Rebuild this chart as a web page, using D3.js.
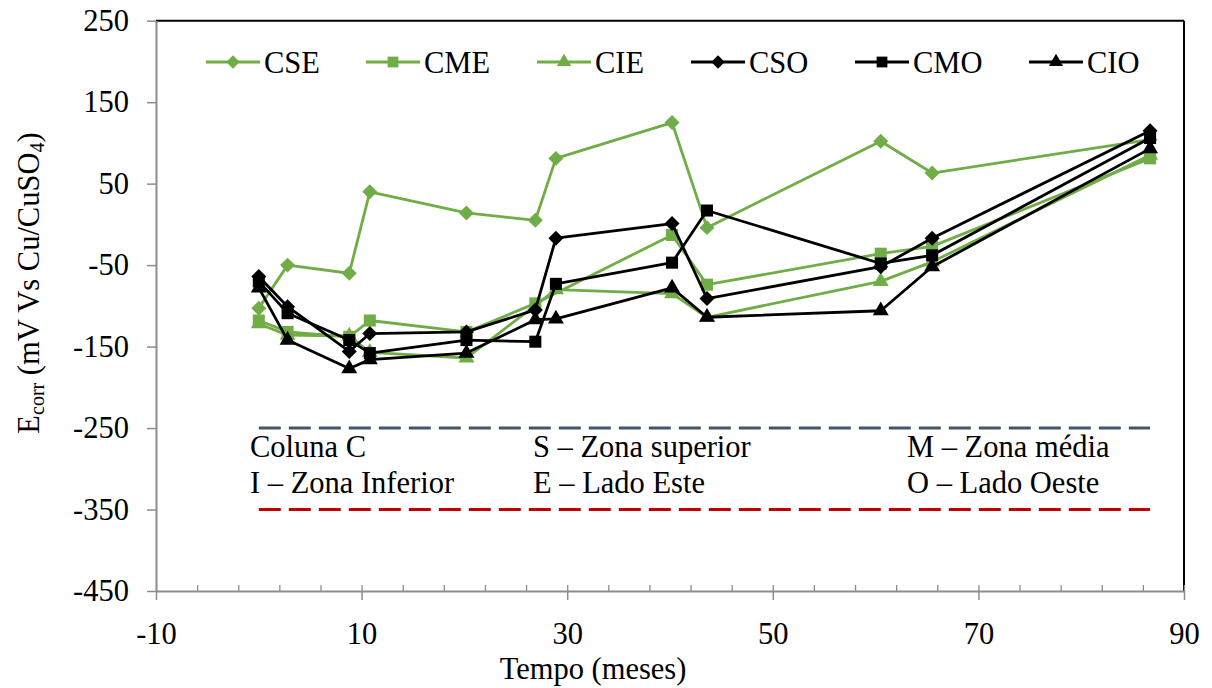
<!DOCTYPE html>
<html><head><meta charset="utf-8">
<script src="https://cdn.jsdelivr.net/npm/d3@7"></script>
<style>
html,body{margin:0;padding:0;background:#fff;}
svg text{font-family:"Liberation Serif","Times New Roman",serif !important;fill:#000;}
</style></head>
<body>
<svg id="chart" width="1212" height="688" font-family="Liberation Serif"></svg>
<script>
// ---- data ----
const seriesNames = ["CSE", "CME", "CIE", "CSO", "CMO", "CIO"];
const xAll = [0, 2.8, 8.8, 10.8, 20.2, 26.9, 28.9, 40.2, 43.6, 60.5, 65.5, 86.7];
const xCME = [0, 2.8, 8.8, 10.8, 20.2, 26.9, 40.2, 43.6, 60.5, 65.5, 86.7];
const xCIE = [0, 2.8, 8.8, 10.8, 20.2, 28.9, 40.2, 43.6, 60.5, 65.5, 86.7];
const CSE = [-103, -50, -60, 40, 14, 5, 81, 125, -4, 102, 63, 104];
const CME = [-118, -132, -138, -118, -132, -97, -13, -74, -36, -27, 81];
const CIE = [-122, -136, -137, -157, -164, -80, -85, -114, -70, -46, 85];
const CSO = [-64, -101, -156, -134, -132, -105, -17, 1, -91, -52, -17, 115];
const CMO = [-70, -109, -142, -158, -142, -144, -73, -47, 17, -48, -38, 106];
const CIO = [-78, -142, -177, -166, -158, -117, -116, -78, -114, -106, -52, 93];
const xTicks = [-10, 10, 30, 50, 70, 90];
const yTicks = [250, 150, 50, -50, -150, -250, -350, -450];
const refLines = [{value: -250, x0: 0, x1: 86.7}, {value: -350, x0: 0, x1: 86.7}];
const notes = [["Coluna C", "S \u2013 Zona superior", "M \u2013 Zona m\u00e9dia"],
               ["I \u2013 Zona Inferior", "E \u2013 Lado Este", "O \u2013 Lado Oeste"]];

// ---- styles ----
const green = "#70AD47", black = "#000000";
const styles = {
  CSE: {color: green, sym: d3.symbolSquare, rot: 45, size: 112, xs: xAll},
  CME: {color: green, sym: d3.symbolSquare, rot: 0, size: 145, xs: xCME},
  CIE: {color: green, sym: d3.symbolTriangle, rot: 0, size: 110, xs: xCIE},
  CSO: {color: black, sym: d3.symbolSquare, rot: 45, size: 112, xs: xAll},
  CMO: {color: black, sym: d3.symbolSquare, rot: 0, size: 145, xs: xAll},
  CIO: {color: black, sym: d3.symbolTriangle, rot: 0, size: 110, xs: xAll}
};
const values = {CSE, CME, CIE, CSO, CMO, CIO};

const svg = d3.select("#chart");
const x = d3.scaleLinear().domain([-10, 90]).range([156, 1184]);
const y = d3.scaleLinear().domain([-450, 250]).range([591, 20.7]);
const FS = 30.5;
const SERIF = '"Liberation Serif","Times New Roman",serif';
const axisGray = "#8c8c8c";
const fmt = d => String(d);

// borders top & right
svg.append("line").attr("x1", x(-10)).attr("x2", x(90)).attr("y1", y(250)).attr("y2", y(250))
  .attr("stroke", "#000").attr("stroke-width", 2);
svg.append("line").attr("x1", x(90)).attr("x2", x(90)).attr("y1", y(250)).attr("y2", y(-450))
  .attr("stroke", "#000").attr("stroke-width", 2);

// minor x ticks (inside)
const minor = d3.range(-10, 90.01, 4);
const gMinor = svg.append("g").attr("transform", `translate(0,${y(-450)})`)
  .call(d3.axisBottom(x).tickValues(minor).tickSize(-6).tickFormat(""));
gMinor.select(".domain").remove();
gMinor.selectAll("line").attr("stroke", axisGray).attr("stroke-width", 1.3);

// x axis
const gx = svg.append("g").attr("transform", `translate(0,${y(-450)})`)
  .call(d3.axisBottom(x).tickValues(xTicks).tickFormat(fmt).tickSize(9).tickSizeOuter(0).tickPadding(22));
gx.attr("font-family", SERIF);
gx.select(".domain").attr("stroke", axisGray).attr("stroke-width", 2);
gx.selectAll("line").attr("stroke", axisGray).attr("stroke-width", 1.5);
gx.selectAll("text").attr("font-size", FS).style("font-family", SERIF).attr("fill", "#000");

// y axis
const gy = svg.append("g").attr("transform", `translate(${x(-10)},0)`)
  .call(d3.axisLeft(y).tickValues(yTicks).tickFormat(fmt).tickSize(9).tickSizeOuter(0).tickPadding(18));
gy.attr("font-family", SERIF);
gy.select(".domain").attr("stroke", axisGray).attr("stroke-width", 2);
gy.selectAll("line").attr("stroke", axisGray).attr("stroke-width", 1.5);
gy.selectAll("text").attr("font-size", FS).style("font-family", SERIF).attr("fill", "#000");

// reference dashed lines
svg.append("line").attr("x1", x(refLines[0].x0)).attr("x2", x(refLines[0].x1))
  .attr("y1", y(refLines[0].value)).attr("y2", y(refLines[0].value))
  .attr("stroke", "#44546A").attr("stroke-width", 3).attr("stroke-dasharray", "22,8");
svg.append("line").attr("x1", x(refLines[1].x0)).attr("x2", x(refLines[1].x1))
  .attr("y1", y(refLines[1].value)).attr("y2", y(refLines[1].value))
  .attr("stroke", "#C00000").attr("stroke-width", 3).attr("stroke-dasharray", "22,8");

// notes
const noteX = [250, 533, 907], noteY = [457, 493];
notes.forEach((row, r) => row.forEach((t, c) => {
  svg.append("text").attr("x", noteX[c]).attr("y", noteY[r]).attr("font-size", FS).text(t);
}));

// series
const line = d3.line().x(d => x(d[0])).y(d => y(d[1]));
seriesNames.forEach(name => {
  const st = styles[name];
  const pts = st.xs.map((xv, i) => [xv, values[name][i]]);
  svg.append("path").datum(pts).attr("d", line).attr("fill", "none")
    .attr("stroke", st.color).attr("stroke-width", 2.8).attr("stroke-linejoin", "round");
  svg.append("g").selectAll("path").data(pts).join("path")
    .attr("transform", d => `translate(${x(d[0])},${y(d[1])}) rotate(${st.rot})`)
    .attr("d", d3.symbol().type(st.sym).size(st.size)).attr("fill", st.color);
});

// legend
const legX = [206, 366, 537, 691, 855, 1029], legY = 62;
seriesNames.forEach((name, i) => {
  const st = styles[name];
  const g = svg.append("g").attr("transform", `translate(${legX[i]},${legY})`);
  g.append("line").attr("x1", 0).attr("x2", 54).attr("y1", 0).attr("y2", 0)
    .attr("stroke", st.color).attr("stroke-width", 2.8);
  g.append("path").attr("transform", `translate(27,0) rotate(${st.rot})`)
    .attr("d", d3.symbol().type(st.sym).size(st.size * 0.8)).attr("fill", st.color);
  g.append("text").attr("x", 58).attr("y", 10.5).attr("font-size", FS).text(name);
});

// axis titles
svg.append("text").attr("x", 593).attr("y", 679).attr("text-anchor", "middle")
  .attr("font-size", FS).text("Tempo (meses)");
const yl = svg.append("text").attr("transform", "translate(39,283) rotate(-90)")
  .attr("text-anchor", "middle").attr("font-size", FS);
yl.append("tspan").text("E");
yl.append("tspan").attr("font-size", 20).attr("dy", 5).text("corr");
yl.append("tspan").attr("dy", -5).text(" (mV Vs Cu/CuSO");
yl.append("tspan").attr("font-size", 20).attr("dy", 5).text("4");
yl.append("tspan").attr("dy", -5).text(")");
</script>
</body></html>
